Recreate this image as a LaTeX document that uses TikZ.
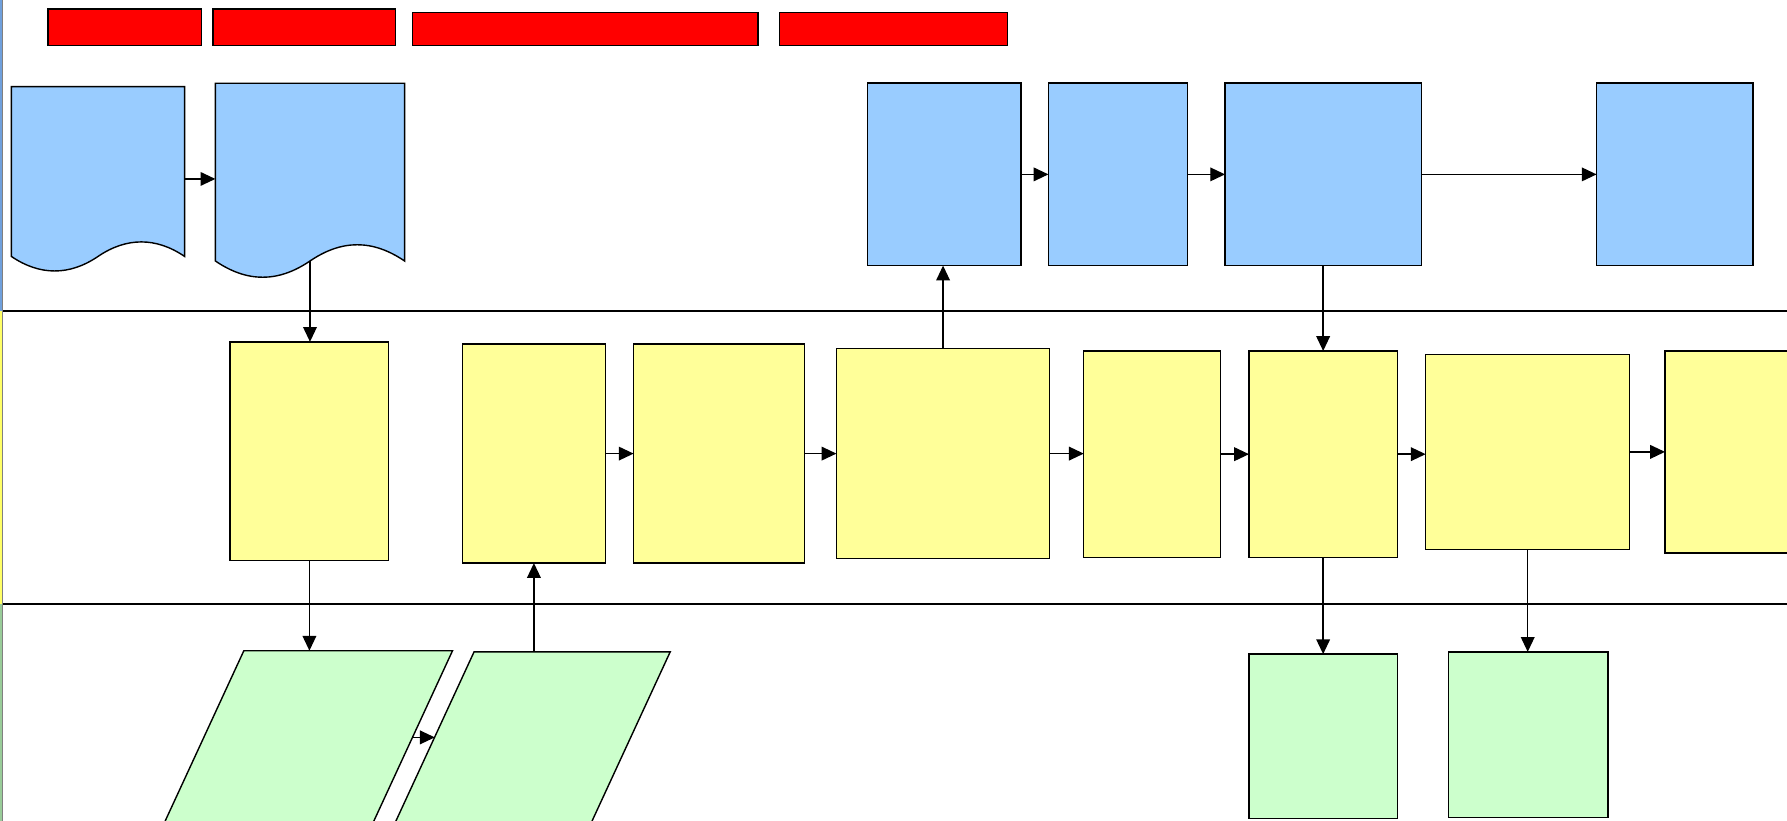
\documentclass[tikz,border=0pt]{standalone}
\usetikzlibrary{arrows.meta,calc}
\definecolor{docblue}{HTML}{99CCFF}
\definecolor{taskyellow}{HTML}{FFFF99}
\definecolor{datagreen}{HTML}{CCFFCC}
\definecolor{stripblue}{HTML}{6FA0DC}
\definecolor{stripyellow}{HTML}{FFFF66}
\definecolor{stripgreen}{HTML}{99CC99}
\tikzstyle{box}=[draw=black,fill=#1,line width=0.35pt,inner sep=0pt,outer sep=0pt]
\tikzstyle{header}=[draw=black,fill=red,line width=0.35pt,inner sep=0pt,outer sep=0pt]
\tikzstyle{area}=[inner sep=0pt,outer sep=0pt]
\tikzstyle{laneline}=[line width=0.5pt,black]
\tikzstyle{flow}=[->,line width=0.35pt]
\newcommand{\stepbox}[6]{\node[#1,minimum width=#5cm,minimum height=#6cm] (#2) at (#3,#4) {};}
\newcommand{\myflow}[2]{\draw[flow] (#1) -- (#2);}
% slanted data box drawn inside an area node: name, slant
\newcommand{\slantbox}[2]{\draw[box=datagreen] ([xshift=#2cm]#1.north west) -- (#1.north east)
    -- ([xshift=-#2cm]#1.south east) -- (#1.south west) -- cycle;}
\tikzset{
	>={Triangle[length=0.13cm,width=0.12cm]},
}

\begin{document}
\begin{tikzpicture}[x=0.01cm,y=-0.01cm]
    \useasboundingbox (0,0) rectangle (1568,720);
    \clip (0,0) rectangle (1568,720);
    % lanes
    \draw[laneline] (0,273) -- (1568,273);
    \draw[laneline] (0,530) -- (1568,530);
    \fill[stripblue] (0,0) rectangle (2.5,273);
    \fill[stripyellow] (0,273) rectangle (2.5,530);
    \fill[stripgreen] (0,530) rectangle (2.5,720);
    \draw[gray,line width=0.3pt] (2.5,0) -- (2.5,720);

    % headers
    \stepbox{header}{h1}{109.5}{24}{1.35}{0.32}
    \stepbox{header}{h2}{267}{24}{1.60}{0.32}
    \stepbox{header}{h3}{513.5}{25.5}{3.03}{0.29}
    \stepbox{header}{h4}{784}{25.5}{2.00}{0.29}

    % documents
    \stepbox{area}{d1}{86}{157}{1.52}{1.62}
    \stepbox{area}{d2}{272}{158}{1.66}{1.70}
    \draw[box=docblue] (10,225) -- (10,76) -- (162,76) -- (162,225)
        .. controls (137,208) and (111,208) .. (86,225)
        .. controls (61,242) and (35,242) .. (10,225) -- cycle;
    \draw[box=docblue] (189,229) -- (189,73) -- (355,73) -- (355,229)
        .. controls (327,210) and (300,210) .. (272,229)
        .. controls (244,248) and (217,248) .. (189,229) -- cycle;
    \coordinate (d2tail) at (272,229);

    % top lane
    \stepbox{box=docblue}{b1}{828.5}{153}{1.35}{1.60}
    \stepbox{box=docblue}{b2}{981}{153}{1.22}{1.60}
    \stepbox{box=docblue}{b3}{1161}{153}{1.72}{1.60}
    \stepbox{box=docblue}{b4}{1469.5}{153}{1.37}{1.60}

    % middle lane
    \stepbox{box=taskyellow}{y1}{271.5}{396}{1.39}{1.92}
    \stepbox{box=taskyellow}{y2}{468.5}{398}{1.25}{1.92}
    \stepbox{box=taskyellow}{y3}{631}{398}{1.50}{1.92}
    \stepbox{box=taskyellow}{y4}{827.5}{398}{1.87}{1.84}
    \stepbox{box=taskyellow}{y5}{1011}{398.5}{1.20}{1.81}
    \stepbox{box=taskyellow}{y6}{1161}{398.5}{1.30}{1.81}
    \stepbox{box=taskyellow}{y7}{1340.5}{396.5}{1.79}{1.71}
    \stepbox{box=taskyellow}{y8}{1531}{396.5}{1.40}{1.77}

    % bottom lane
    \stepbox{area}{p1}{259.3}{671}{2.754}{2.00}
    \stepbox{area}{p2}{455.8}{672}{2.644}{2.00}
    \slantbox{p1}{0.924}
    \slantbox{p2}{0.924}
    \coordinate (p1out) at (362,647);
    \coordinate (p2in) at (381.5,647);
    \stepbox{box=datagreen}{g1}{1161}{646}{1.30}{1.44}
    \stepbox{box=datagreen}{g2}{1341}{644.5}{1.40}{1.45}

    % flows
    \myflow{d1.east}{d1.east -| d2.west}
    \myflow{d2tail}{d2tail |- y1.north}
    \myflow{b1.east}{b1.east -| b2.west}
    \myflow{b2.east}{b2.east -| b3.west}
    \myflow{b3.east}{b3.east -| b4.west}
    \myflow{y4.north}{y4.north |- b1.south}
    \myflow{b3.south}{b3.south |- y6.north}
    \myflow{y2.east}{y2.east -| y3.west}
    \myflow{y3.east}{y3.east -| y4.west}
    \myflow{y4.east}{y4.east -| y5.west}
    \myflow{y5.east}{y5.east -| y6.west}
    \myflow{y6.east}{y6.east -| y7.west}
    \myflow{y7.east}{y7.east -| y8.west}
    \myflow{y1.south}{y1.south |- p1.north}
    \myflow{y2.south |- p2.north}{y2.south}
    \myflow{y6.south}{y6.south |- g1.north}
    \myflow{y7.south}{y7.south |- g2.north}
    \myflow{p1out}{p2in}
\end{tikzpicture}
\end{document}
